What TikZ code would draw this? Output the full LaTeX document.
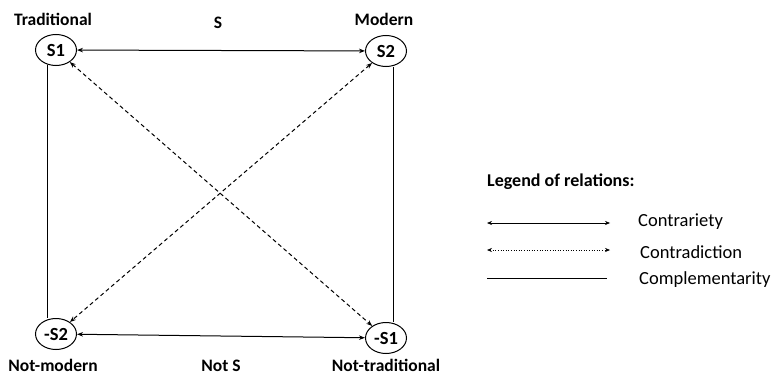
\documentclass[tikz,border=0pt]{standalone}
\usepackage{fontspec}
\setmainfont{Carlito}
\usetikzlibrary{shapes.geometric,arrows.meta}
\begin{document}
\begin{tikzpicture}[x=1pt,y=-1pt,
  term/.style={ellipse,draw,line width=1pt,minimum width=41pt,minimum height=31pt,inner sep=0pt,font=\bfseries\fontsize{18.5}{20}\selectfont},
  lbl/.style={font=\bfseries\fontsize{17.5}{19}\selectfont,inner sep=0pt},
  legtxt/.style={font=\fontsize{18.5}{21}\selectfont,inner sep=0pt,anchor=west},
  tip/.style={{Stealth[length=6pt,width=4.5pt]}-{Stealth[length=6pt,width=4.5pt]}},
  contrary/.style={tip,line width=1pt},
  contradict/.style={tip,line width=1pt,dash pattern=on 4pt off 3pt},
  complement/.style={line width=1pt},
  legtip/.style={{Stealth[length=5pt,width=4pt]}-{Stealth[length=5pt,width=4pt]},line width=0.6pt}]
\useasboundingbox (0,0) rectangle (773,377);

% the four terms of the square
\node[term] (s1)  at (56,50)  {S1};
\node[term] (s2)  at (386,51) {S2};
\node[term] (ns2) at (56,334) {-S2};
\node[term] (ns1) at (386,338) {-S1};

% labels
\node[lbl] (lt)  at (53,19)  {Traditional};
\node[lbl] (ls)  at (218,23) {S};
\node[lbl] (lm)  at (384,19) {Modern};
\node[lbl] (lnm) at (53,365) {Not-modern};
\node[lbl] (lns) at (221,366) {Not S};
\node[lbl] (lnt) at (386,365) {Not-traditional};

% relations
\draw[contrary] (s1) -- (s2);
\draw[contrary] (ns2) -- (ns1);
\draw[contradict] (s1) -- (ns1);
\draw[contradict] (s2) -- (ns2);
\coordinate (c1) at (47,65);
\coordinate (c2) at (47,318);
\coordinate (c3) at (393,67);
\coordinate (c4) at (393,322);
\draw[complement] (c1) -- (c2);
\draw[complement] (c3) -- (c4);

% legend
\node[font=\bfseries\fontsize{18}{21}\selectfont,inner sep=0pt,anchor=west] (lg) at (487,182) {Legend of relations:};
\coordinate (l1a) at (487,223); \coordinate (l1b) at (610,223);
\coordinate (l2a) at (487,250); \coordinate (l2b) at (610,250);
\coordinate (l3a) at (487,278); \coordinate (l3b) at (607,278);
\draw[legtip] (l1a) -- (l1b);
\draw[legtip,dotted] (l2a) -- (l2b);
\draw[line width=0.5pt] (l3a) -- (l3b);
\node[legtxt] (t1) at (638,222) {Contrariety};
\node[legtxt] (t2) at (640,252) {Contradiction};
\node[legtxt] (t3) at (639,280) {Complementarity};
\end{tikzpicture}
\end{document}
